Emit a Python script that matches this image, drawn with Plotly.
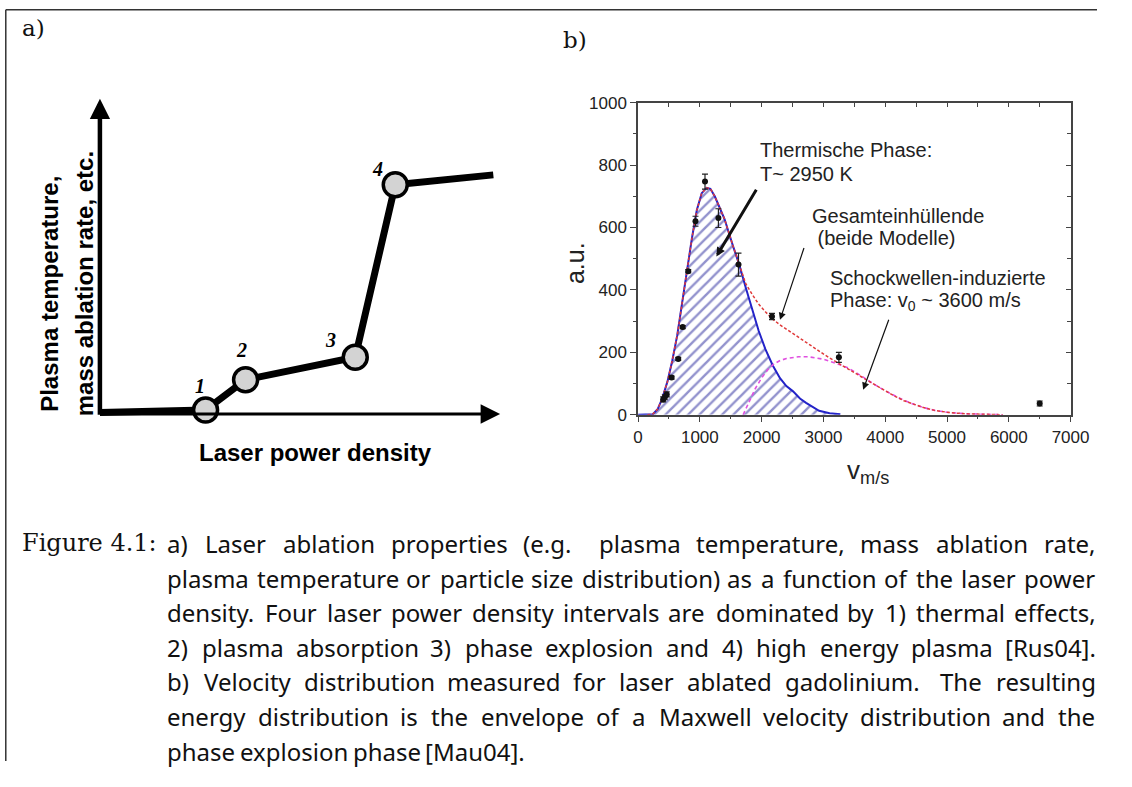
import plotly.graph_objects as go

# page is 1132x787; the browser body keeps its default 8px margin,
# so the figure itself is 16px smaller and all positions below are page pixels
PAGE_W, PAGE_H = 1132, 787
OFF = 8
W, H = PAGE_W - 2 * OFF, PAGE_H - 2 * OFF

# ---------------- data: panel a (schematic) ----------------
a_x = [0.0, 2.64, 3.64, 6.38, 7.38, 9.83]
a_y = [0.07, 0.15, 1.11, 1.82, 7.28, 7.59]
a_pt_x = [2.64, 3.64, 6.38, 7.38]
a_pt_y = [0.15, 1.11, 1.82, 7.28]
a_pt_labels = ["1", "2", "3", "4"]

# ---------------- data: panel b ----------------
v_meas = [406, 433, 464, 542, 650, 722, 812, 929, 1083, 1300, 1625, 2167, 3250, 6500]
n_meas = [49, 56, 65, 119, 179, 281, 460, 620, 747, 630, 481, 315, 184, 36]
n_err = [8, 8, 8, 5, 5, 5, 5, 16, 24, 30, 37, 10, 16, 8]

v_thermal = [0, 150, 238, 317, 385, 475, 554, 634, 713, 792, 871, 950, 1030, 1109, 1170,
             1241, 1320, 1399, 1531, 1637, 1742, 1848, 1950, 2060, 2180, 2297, 2400, 2508,
             2620, 2719, 2830, 2930, 3100, 3274]
n_thermal = [0, 0, 2, 18, 49, 106, 174, 255, 360, 460, 565, 655, 710, 727, 724,
             700, 665, 627, 544, 481, 408, 335, 270, 210, 158, 117, 92, 75,
             52, 38, 24, 12.5, 5, 2]

v_shock = [1700, 1800, 1900, 2000, 2100, 2200, 2300, 2400, 2500, 2600, 2750, 2900, 3000,
           3200, 3400, 3600, 3800, 4000, 4200, 4400, 4600, 4800, 5000, 5300, 5600, 5900]
n_shock = [0, 40, 85, 118, 145, 163, 174, 180, 184, 186, 186, 182, 178,
           165, 150, 126, 100, 77, 56, 38, 24, 14, 8, 3, 1, 0]

v_total = [150, 238, 317, 385, 475, 554, 634, 713, 792, 871, 950, 1030, 1109, 1170, 1241,
           1320, 1399, 1531, 1637, 1742, 1848, 1950, 2060, 2180, 2297, 2400, 2508, 2620,
           2719, 2830, 2930, 3036, 3200, 3353, 3500, 3670, 3800, 3986, 4150, 4303, 4450,
           4620, 4800, 5042, 5300, 5570, 5900]
n_total = [0, 2, 18, 49, 106, 174, 255, 360, 460, 565, 655, 710, 727, 724, 700,
           665, 627, 544, 481, 420, 385, 355, 330, 306, 288, 274, 259, 244,
           231, 216, 203, 190, 170, 153, 136, 115, 100, 78, 60, 45, 34,
           23, 14, 7, 3, 1, 0]

x_ticks = [0, 1000, 2000, 3000, 4000, 5000, 6000, 7000]
y_ticks = [0, 200, 400, 600, 800, 1000]

caption_lines = [
    "a) Laser ablation properties (e.g.  plasma temperature, mass ablation rate,",
    "plasma temperature or particle size distribution) as a function of the laser power",
    "density. Four laser power density intervals are dominated by 1) thermal effects,",
    "2) plasma absorption 3) phase explosion and 4) high energy plasma [Rus04].",
    "b) Velocity distribution measured for laser ablated gadolinium.  The resulting",
    "energy distribution is the envelope of a Maxwell velocity distribution and the",
    "phase explosion phase [Mau04].",
]


def px(x, y):
    return (x - OFF) / W, 1 - (y - OFF) / H


def txt(text, x, y, font, xanchor="center", yanchor="middle", angle=0):
    X, Y = px(x, y)
    return dict(x=X, y=Y, xref="paper", yref="paper", showarrow=False, text=text,
                xanchor=xanchor, yanchor=yanchor, textangle=angle, font=font, borderpad=0)


fig = go.Figure()

# ---- panel b traces ----
fig.add_trace(go.Scatter(
    x=v_thermal, y=n_thermal, mode="lines", line=dict(color="#2323c8", width=2),
    fill="tozeroy", fillcolor="rgba(255,255,255,0)",
    fillpattern=dict(shape="/", fgcolor="#26269c", bgcolor="white", size=8, solidity=0.3),
    xaxis="x", yaxis="y", showlegend=False, hoverinfo="skip"))
fig.add_trace(go.Scatter(
    x=v_shock, y=n_shock, mode="lines", line=dict(color="#e050e0", width=1.6, dash="4px,3px"),
    xaxis="x", yaxis="y", showlegend=False))
fig.add_trace(go.Scatter(
    x=v_total, y=n_total, mode="lines", line=dict(color="#e03a3a", width=1.5, dash="3px,2px"),
    xaxis="x", yaxis="y", showlegend=False))
fig.add_trace(go.Scatter(
    x=v_meas, y=n_meas, mode="markers", marker=dict(color="#111", size=6),
    error_y=dict(type="data", array=n_err, color="#222", thickness=1.2, width=3),
    xaxis="x", yaxis="y", showlegend=False))
# dummy trace for mirrored axes
fig.add_trace(go.Scatter(x=[0], y=[0], mode="markers", marker=dict(opacity=0),
                         xaxis="x3", yaxis="y3", showlegend=False, hoverinfo="skip"))

# ---- panel a traces ----
fig.add_trace(go.Scatter(
    x=a_x, y=a_y, mode="lines", line=dict(color="black", width=7),
    xaxis="x2", yaxis="y2", showlegend=False, hoverinfo="skip"))
fig.add_trace(go.Scatter(
    x=a_pt_x, y=a_pt_y, mode="markers",
    marker=dict(size=24, color="#d3d3d3", line=dict(color="black", width=3.5)),
    xaxis="x2", yaxis="y2", showlegend=False, cliponaxis=False))

# ---- axes ----
axis_col = "#444"
tickfont = dict(family="Liberation Sans", size=17, color="#222")
bx0, bx1 = px(655, 0)[0], px(1097, 0)[0]
by0, by1 = px(0, 424)[1], px(0, 104)[1]
fig.update_layout(
    xaxis=dict(domain=[bx0, bx1], anchor="y", range=[0, 7000], tickvals=x_ticks,
               ticks="outside", ticklen=6, tickwidth=1.2, tickcolor=axis_col,
               showline=True, linecolor=axis_col, linewidth=1.5, showgrid=False, zeroline=False,
               tickfont=tickfont,
               minor=dict(ticks="outside", ticklen=3, dtick=500, tickcolor=axis_col, tickwidth=1.2)),
    yaxis=dict(domain=[by0, by1], anchor="x", range=[0, 1000], tickvals=y_ticks,
               ticks="outside", ticklen=6, tickwidth=1.2, tickcolor=axis_col,
               showline=True, linecolor=axis_col, linewidth=1.5, showgrid=False, zeroline=False,
               tickfont=tickfont,
               minor=dict(ticks="outside", ticklen=3, dtick=100, tickcolor=axis_col, tickwidth=1.2)),
    xaxis3=dict(overlaying="x", side="top", anchor="y", range=[0, 7000], tickvals=x_ticks,
                ticks="inside", ticklen=5, tickwidth=1.2, tickcolor=axis_col, showticklabels=False,
                showline=True, linecolor=axis_col, linewidth=1.5, showgrid=False, zeroline=False,
                minor=dict(ticks="inside", ticklen=5, dtick=500, tickcolor=axis_col, tickwidth=1.2)),
    yaxis3=dict(overlaying="y", side="right", anchor="x", range=[0, 1000], tickvals=y_ticks,
                ticks="inside", ticklen=5, tickwidth=1.2, tickcolor=axis_col, showticklabels=False,
                showline=True, linecolor=axis_col, linewidth=1.5, showgrid=False, zeroline=False,
                minor=dict(ticks="inside", ticklen=4, dtick=100, tickcolor=axis_col, tickwidth=1.2)),
    xaxis2=dict(domain=[px(105 - 20.45, 0)[0], px(514 + 20.45, 0)[0]], anchor="y2",
                range=[-0.5, 10.5], visible=False),
    yaxis2=dict(domain=[px(0, 424 + 16.2)[1], px(0, 100 - 16.2)[1]], anchor="x2",
                range=[-0.5, 10.5], visible=False),
    width=W, height=H, margin=dict(l=0, r=0, t=0, b=0), autosize=False,
    paper_bgcolor="white", plot_bgcolor="white",
)

ann = []
# panel a axis arrows
ann.append(dict(x=0, y=10, ax=0, ay=-0.05, xref="x2", yref="y2", axref="x2", ayref="y2",
                showarrow=True, arrowhead=2, arrowsize=0.9, arrowwidth=4.5, arrowcolor="black", text=""))
ann.append(dict(x=10, y=0.02, ax=0, ay=0.02, xref="x2", yref="y2", axref="x2", ayref="y2",
                showarrow=True, arrowhead=2, arrowsize=1.3, arrowwidth=3, arrowcolor="black", text=""))
# point labels
lab_pos = [(207, 395), (250, 358), (341, 347), (389, 172)]
numf = dict(family="Liberation Serif", size=20, color="black")
for lab, (lx, ly) in zip(a_pt_labels, lab_pos):
    ann.append(txt("<b><i>%s</i></b>" % lab, lx, ly, numf))
boldf = dict(family="Liberation Sans", size=24, color="black")
ann.append(txt("<b>Plasma temperature,</b>", 54, 300, boldf, angle=-90))
ann.append(txt("<b>mass ablation rate, etc.</b>", 89, 290, boldf, angle=-90))
ann.append(txt("<b>Laser power density</b>", 325, 463, boldf))

# panel labels
serif = dict(family="DejaVu Serif", size=23, color="#111")
ann.append(txt("a)", 24, 27, serif, xanchor="left"))
ann.append(txt("b)", 577, 40, serif, xanchor="left"))

# panel b axis titles
ann.append(txt("a.u.", 590, 268, dict(family="Liberation Sans", size=25, color="#222"), angle=-90))
ann.append(txt("v<sub>m/s</sub>", 890, 482, dict(family="Liberation Sans", size=26, color="#222")))

# panel b text annotations
tf = dict(family="Liberation Sans", size=20, color="#222")
for t, (lx, ly) in [("Thermische Phase:", (779, 153)), ("T~ 2950 K", (779, 177)),
                    ("Gesamteinhüllende", (832, 220)), (" (beide Modelle)", (832, 243)),
                    ("Schockwellen-induzierte", (850, 284)),
                    ("Phase: v<sub>0</sub> ~ 3600 m/s", (850, 308))]:
    ann.append(txt(t, lx, ly, tf, xanchor="left"))
# panel b arrows
for (hx, hy, tx, ty, w, s) in [(1267, 507, 1928, 726, 3, 0.6),
                                (2297, 304, 2693, 539, 1.2, 1.2),
                                (3643, 80, 4066, 309, 1.2, 1.2)]:
    ann.append(dict(x=hx, y=hy, ax=tx, ay=ty, xref="x", yref="y", axref="x", ayref="y",
                    showarrow=True, arrowhead=2, arrowsize=s, arrowwidth=w, arrowcolor="#111", text=""))

# caption with word-level justification
cw = {' ': 0.26, 'a': 0.561, 'b': 0.615, 'c': 0.480, 'd': 0.615, 'e': 0.564, 'f': 0.344,
      'g': 0.615, 'h': 0.618, 'i': 0.258, 'j': 0.258, 'k': 0.534, 'l': 0.258, 'm': 0.937,
      'n': 0.618, 'o': 0.605, 'p': 0.615, 'q': 0.615, 'r': 0.409, 's': 0.479, 't': 0.361,
      'u': 0.618, 'v': 0.508, 'w': 0.786, 'x': 0.529, 'y': 0.510, 'z': 0.470,
      'B': 0.640, 'F': 0.532, 'L': 0.524, 'M': 0.907, 'R': 0.625, 'T': 0.553, 'V': 0.600,
      '(': 0.303, ')': 0.303, '.': 0.268, ',': 0.258, '[': 0.330, ']': 0.330, ':': 0.268}
for d in "0123456789":
    cw[d] = 0.572
CS = 24
capf = dict(family="Noto Sans", size=CS, color="#111")
L, R = 173, 1120
y0, dy = 556, 35.5


def wlen(s):
    return sum(cw.get(c, 0.55) for c in s) * CS


ann.append(txt("Figure 4.1:", 24, y0, dict(family="DejaVu Serif", size=24, color="#111"),
               xanchor="left"))
for i, line in enumerate(caption_lines):
    words, gaps = [], []
    pending = 0.0
    for p in line.split(" "):
        if p == "":
            pending += 0.6
        else:
            if words:
                gaps.append(1.0 + pending)
            pending = 0.0
            words.append(p)
    ww = [wlen(w) for w in words]
    sp = cw[' '] * CS
    nat = sum(ww) + sum(g * sp for g in gaps)
    last = (i == len(caption_lines) - 1)
    extra = 0 if last or not gaps else (R - L - nat) / sum(gaps)
    x = L
    yy = y0 + i * dy
    for j, w in enumerate(words):
        ann.append(txt(w, x, yy, capf, xanchor="left"))
        if j < len(gaps):
            x += ww[j] + gaps[j] * (sp + extra)

# frame lines of the figure page (top and left)
fx, fy = px(8.8, 8.8)
shapes = [
    dict(type="line", xref="paper", yref="paper", x0=fx, x1=1, y0=fy, y1=fy,
         line=dict(color="#333", width=1.5)),
    dict(type="line", xref="paper", yref="paper", x0=fx, x1=fx, y0=0, y1=fy,
         line=dict(color="#333", width=1.5)),
]
fig.update_layout(annotations=ann, shapes=shapes)
fig.write_html("out.html")
